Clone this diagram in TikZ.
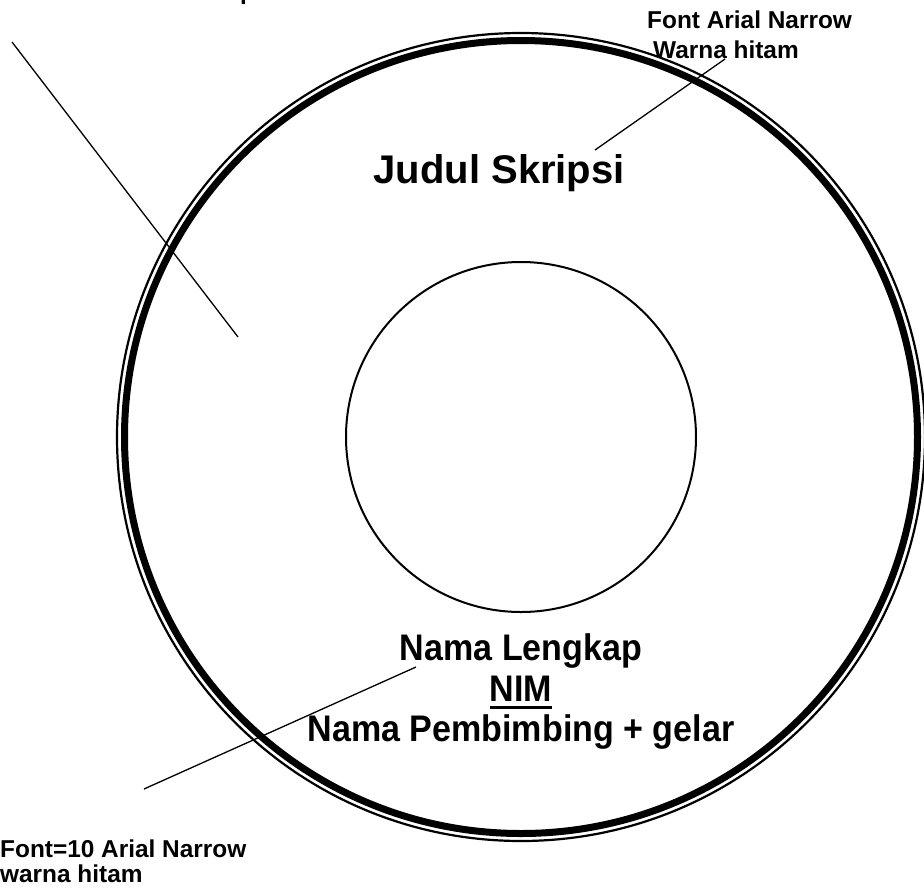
\documentclass[tikz,border=0pt]{standalone}
\usepackage{fontspec}
\setmainfont{Liberation Sans}
\newfontfamily\narrowfont[FakeStretch=0.92]{Liberation Sans}
\usetikzlibrary{calc}
\begin{document}
\begin{tikzpicture}[x=1pt,y=-1pt,
  note/.style={inner sep=0pt, anchor=base west, font=\bfseries\fontsize{24.4}{28}\selectfont},
  big/.style={inner sep=0pt, anchor=base, font=\narrowfont\bfseries\fontsize{37}{42}\selectfont},
  title/.style={inner sep=0pt, anchor=base east, font=\bfseries\fontsize{40}{46}\selectfont},
  leader/.style={line width=1.3pt, black}]
\useasboundingbox (0,0) rectangle (924,887);
\fill[white] (0,0) rectangle (924,887);
% disc
\coordinate (c) at (521,437);
\draw[line width=7pt] (c) circle[radius=396.5];
\draw[line width=2.2pt] (c) circle[radius=404];
\draw[line width=2pt] (c) circle[radius=175];
% texts
\node[note] (p) at (240,-1) {p};
\node[note] (f1) at (647,28) {Font Arial Narrow};
\node[note] (f2) at (653,58) {Warna hitam};
\node[title] (judul) at (625,183) {Judul Skripsi};
\node[big] (nama) at (521,660) {Nama Lengkap};
\node[big] (nim) at (521,701) {NIM};
\draw[line width=3pt] ($(nim.base west)+(0,6)$) -- ($(nim.base east)+(0,6)$);
\node[big] (pemb) at (521,741) {Nama Pembimbing + gelar};
\node[note] (g1) at (0,857) {Font=10 Arial Narrow};
\node[note] (g2) at (0,882) {warna hitam};
% leaders
\coordinate (a1) at (12,42);
\coordinate (a2) at (238,337);
\draw[leader] (a1) -- (a2);
\coordinate (b1) at (725,59);
\coordinate (b2) at (595,150);
\draw[leader] (b1) -- (b2);
\coordinate (d1) at (416,667);
\coordinate (d2) at (144,789);
\draw[leader] (d1) -- (d2);
\end{tikzpicture}
\end{document}
